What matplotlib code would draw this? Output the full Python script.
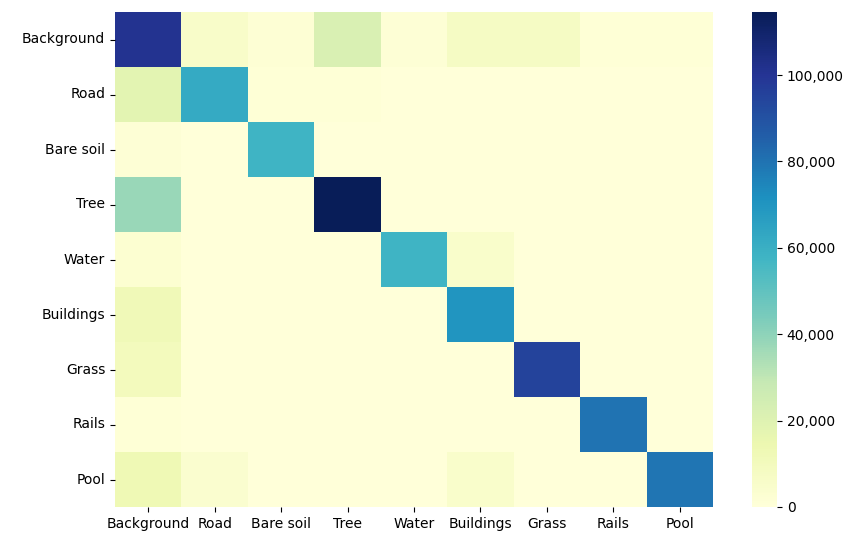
import matplotlib
matplotlib.use("Agg")
import matplotlib.pyplot as plt
import matplotlib.ticker as mticker
import numpy as np
import seaborn as sns

classes = ["Background", "Road", "Bare soil", "Tree", "Water",
           "Buildings", "Grass", "Rails", "Pool"]

# Confusion matrix rows (true class) by columns (predicted class)
row_background = [101000, 6000, 2000, 22000, 1500, 8000, 8000, 1000, 1000]
row_road = [18000, 62000, 1000, 1200, 300, 300, 300, 100, 100]
row_bare_soil = [1500, 300, 58000, 100, 100, 100, 100, 0, 0]
row_tree = [38000, 200, 100, 114600, 100, 100, 100, 0, 0]
row_water = [3000, 200, 100, 100, 58000, 5000, 100, 0, 0]
row_buildings = [12000, 200, 100, 100, 100, 70000, 200, 0, 0]
row_grass = [10000, 200, 100, 100, 100, 200, 95000, 0, 0]
row_rails = [1000, 100, 0, 0, 0, 100, 100, 80000, 0]
row_pool = [13000, 4000, 200, 200, 200, 5000, 300, 100, 79500]

matrix = np.array([row_background, row_road, row_bare_soil, row_tree,
                   row_water, row_buildings, row_grass, row_rails, row_pool])

fig = plt.figure(figsize=(8.45, 5.33), dpi=100)
ax = fig.add_axes([115 / 845, 26 / 533, 598 / 845, 495 / 533])
cax = fig.add_axes([752 / 845, 26 / 533, 25 / 845, 495 / 533])

sns.heatmap(matrix, cmap="YlGnBu", vmin=0, ax=ax, cbar_ax=cax,
            xticklabels=classes, yticklabels=classes)

ax.tick_params(axis="x", rotation=0, labelsize=10)
ax.tick_params(axis="y", rotation=0, labelsize=10)
cax.yaxis.set_major_formatter(mticker.FuncFormatter(lambda v, p: f"{int(v):,}"))
cax.tick_params(labelsize=10)

fig.savefig("out.png", dpi=100)
